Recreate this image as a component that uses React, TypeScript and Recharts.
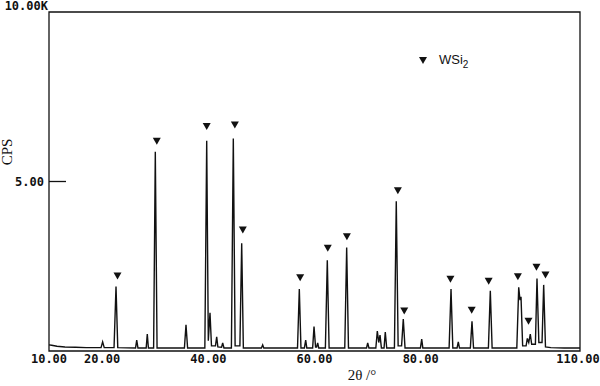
import { ComposedChart, Line, Scatter, XAxis, YAxis, ReferenceArea, Legend, Label } from "recharts";

// diffraction trace, 2θ in degrees and counts per second
const theta = [
  10.0, 10.5, 11.5, 13.0, 15.0, 17.0, 19.8, 20.1, 20.4, 22.25, 22.62, 22.95,
  26.3, 26.52, 26.75, 28.3, 28.51, 28.72, 29.7, 30.02, 30.35, 35.5, 35.8, 36.1,
  39.35, 39.7, 40.0, 40.32, 40.6, 41.35, 41.58, 41.8, 42.5, 42.71, 42.95,
  44.35, 44.71, 45.05, 45.95, 46.29, 46.6, 50.0, 50.24, 50.45,
  56.8, 57.14, 57.45, 58.1, 58.34, 58.55, 59.65, 59.91, 60.2, 60.4, 60.6, 60.8,
  62.05, 62.41, 62.75, 65.7, 66.06, 66.4, 69.8, 70.02, 70.25,
  71.55, 71.83, 72.1, 72.34, 72.6, 73.1, 73.33, 73.6,
  75.05, 75.4, 75.75, 76.4, 76.72, 77.05, 79.95, 80.19, 80.4,
  85.35, 85.71, 86.05, 86.85, 87.08, 87.3, 89.35, 89.66, 89.95,
  92.75, 93.11, 93.45, 98.1, 98.46, 98.7, 98.89, 99.2,
  99.85, 100.08, 100.35, 100.64, 100.9, 101.6, 101.9, 102.25,
  102.85, 103.16, 103.5, 104.5, 107.0, 110.0,
];
const cps = [
  180, 170, 140, 120, 110, 100, 100, 270, 100, 100, 1900, 100,
  90, 320, 90, 90, 500, 90, 90, 5880, 90, 90, 770, 90,
  90, 6200, 300, 1130, 150, 150, 420, 120, 110, 240, 90,
  90, 6270, 150, 150, 3180, 90, 90, 180, 90,
  90, 1830, 90, 90, 320, 90, 90, 720, 120, 120, 240, 90,
  90, 2680, 90, 90, 3050, 90, 90, 240, 90,
  90, 590, 250, 470, 90, 90, 560, 90,
  90, 4420, 150, 150, 940, 90, 90, 350, 90,
  90, 1830, 90, 90, 270, 90, 90, 880, 90,
  90, 1780, 90, 90, 1880, 1500, 1600, 150,
  150, 370, 250, 500, 200, 200, 2140, 250,
  250, 1950, 120, 100, 90, 90,
];

// WSi2 reflection markers (triangle centres)
const markTheta = [22.9, 30.3, 39.7, 45.0, 46.5, 57.3, 62.5, 66.1, 75.7, 76.9, 85.6, 89.6, 92.8, 98.3, 100.3, 101.8, 103.5];
const markCps = [2210, 6190, 6620, 6670, 3570, 2160, 3030, 3370, 4730, 1180, 2120, 1200, 2060, 2190, 880, 2470, 2240];

const xTicks = [10, 20, 40, 60, 80, 110];
const yTicks = [5000, 10000];

const trace = theta.map((t, i) => ({ theta: t, cps: cps[i] }));
const marks = markTheta.map((t, i) => ({ theta: t, cps: markCps[i] }));

const mono = "'DejaVu Sans Mono', monospace";

function Triangle(props: any) {
  const { cx, cy } = props;
  return <polygon points={`${cx - 4},${cy - 3.5} ${cx + 4},${cy - 3.5} ${cx},${cy + 3.5}`} fill="#111" />;
}

function XTick({ x, y, payload }: any) {
  const last = payload.value === 110;
  return (
    <text x={last ? x - 2 : x} y={y} dy={12} textAnchor="middle" fontFamily={mono} fontWeight="bold" fontSize={12} fill="#111">
      {payload.value.toFixed(2)}
    </text>
  );
}

function YTick({ x, y, payload }: any) {
  const top = payload.value === 10000;
  return (
    <g>
      {!top && <line x1={x} x2={x + 17} y1={y} y2={y} stroke="#111" strokeWidth={1.3} />}
      <text x={top ? x - 1 : x - 5} y={top ? y - 6 : y} dy={4} textAnchor="end" fontFamily={mono} fontWeight="bold" fontSize={12} fill="#111">
        {(payload.value / 1000).toFixed(2) + (top ? "K" : "")}
      </text>
    </g>
  );
}

function LegendBox() {
  return (
    <div style={{ display: "flex", alignItems: "center", fontFamily: "'Liberation Sans', Arial, sans-serif", fontSize: 13, color: "#111" }}>
      <svg width={8} height={7} style={{ marginRight: 12 }}>
        <polygon points="0,0 8,0 4,7" fill="#111" />
      </svg>
      <span>
        WSi<sub style={{ fontSize: 10 }}>2</sub>
      </span>
    </div>
  );
}

export default function App() {
  return (
    <div style={{ position: "absolute", left: 0, top: 0, background: "#fff" }}>
      <ComposedChart width={600} height={386} margin={{ top: 12, right: 20, left: 0, bottom: 0 }}>
        <XAxis
          dataKey="theta"
          type="number"
          domain={[10, 110]}
          ticks={xTicks}
          height={35}
          axisLine={false}
          tickLine={false}
          tickSize={0}
          tickMargin={0}
          tick={<XTick />}
          interval={0}
        >
          <Label
            content={({ viewBox }: any) => (
              <text x={viewBox.x + 313} y={viewBox.y + 29} textAnchor="middle" fontFamily="'Liberation Serif', serif" fontSize={15} fill="#111">
                2θ /°
              </text>
            )}
          />
        </XAxis>
        <YAxis
          type="number"
          domain={[0, 10000]}
          ticks={yTicks}
          width={49}
          axisLine={false}
          tickLine={false}
          tickSize={0}
          tickMargin={0}
          tick={<YTick />}
          interval={0}
        >
          <Label
            content={({ viewBox }: any) => (
              <text
                x={12}
                y={viewBox.y + 140}
                transform={`rotate(-90 12 ${viewBox.y + 140})`}
                textAnchor="middle"
                fontFamily="'Liberation Serif', serif"
                fontSize={15}
                fill="#111"
              >
                CPS
              </text>
            )}
          />
        </YAxis>
        <ReferenceArea x1={10} x2={110} y1={0} y2={10000} fill="none" stroke="#111" strokeWidth={1.3} />
        <Line data={trace} dataKey="cps" type="linear" stroke="#111" strokeWidth={1.4} dot={false} isAnimationActive={false} />
        <Scatter data={marks} dataKey="cps" shape={<Triangle />} isAnimationActive={false} />
        <Legend
          layout="vertical"
          align="center"
          verticalAlign="middle"
          content={<LegendBox />}
          wrapperStyle={{ position: "absolute", left: 419, top: 52, width: "auto" }}
        />
      </ComposedChart>
    </div>
  );
}
